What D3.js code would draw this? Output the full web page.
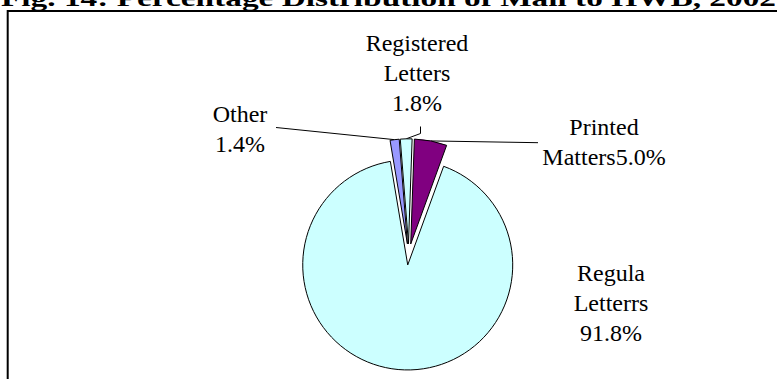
<!DOCTYPE html>
<html>
<head>
<meta charset="utf-8">
<script src="https://cdn.jsdelivr.net/npm/d3@7"></script>
<style>
  html, body { margin: 0; padding: 0; background: #fff; }
  svg { display: block; }
  text { font-family: "Liberation Serif", "Times New Roman", serif; fill: #000; }
</style>
</head>
<body>
<svg id="chart" width="777" height="379"></svg>
<script>
// Mail categories, clockwise from 12 o'clock
const categories = ["Printed Matters", "Regular Letters", "Other", "Registered Letters"];
const shares = [5.0, 91.8, 1.4, 1.8];
const sliceColors = ["#800080", "#CCFFFF", "#9999FF", "#CCFFFF"];
// Label wording as printed on the chart (value joined to the last name line or on its own line)
const labelNames = [["Printed", "Matters"], ["Regula", "Letterrs"], ["Other"], ["Registered", "Letters"]];
const valueOnOwnLine = [false, true, true, true];
const titleText = "Fig. 14: Percentage Distribution of Mail to HWB, 2002";

const svg = d3.select("#chart");
const W = 777, H = 379;

// Frame around the plot area (runs off the right and bottom edges)
svg.append("rect")
  .attr("x", 7.7).attr("y", 11)
  .attr("width", 820).attr("height", 420)
  .attr("fill", "none").attr("stroke", "#000").attr("stroke-width", 2);

// Title, mostly above the top edge
svg.append("text")
  .attr("x", 1).attr("y", 5.5)
  .attr("textLength", 775).attr("lengthAdjust", "spacingAndGlyphs")
  .style("font-size", "23px").style("font-weight", "bold")
  .text(titleText);

// Pie geometry
const cx = 408.7, cy = 254.4, R = 105, explode = 10.6;
const rot = 2 * Math.PI / 180;
const pie = d3.pie().sort(null).value(d => d)
  .startAngle(rot).endAngle(rot + 2 * Math.PI);
const arcs = pie(shares);
const arcGen = d3.arc().innerRadius(0).outerRadius(R);

const mid = a => (a.startAngle + a.endAngle) / 2;
const offset = a => [explode * Math.sin(mid(a)), -explode * Math.cos(mid(a))];
// point on the outer rim at the middle of a slice (in chart coordinates)
const rimPoint = a => {
  const [dx, dy] = offset(a);
  return [cx + dx + R * Math.sin(mid(a)), cy + dy - R * Math.cos(mid(a))];
};

// Leader lines from labels to slices
const leaderStarts = [
  [[538, 142.7]],
  null,
  [[276, 127.5]],
  [[420.5, 126.5], [420.5, 133.5]]
];
const lineGen = d3.line();
const leaders = svg.append("g");
arcs.forEach((a, i) => {
  if (!leaderStarts[i]) return;
  const pts = leaderStarts[i].concat([rimPoint(a)]);
  leaders.append("path")
    .attr("d", lineGen(pts))
    .attr("fill", "none").attr("stroke", "#000").attr("stroke-width", 1);
});

// Slices, each pulled out along its mid angle
const slices = svg.append("g").attr("transform", `translate(${cx},${cy})`);
slices.selectAll("path")
  .data(arcs)
  .join("path")
  .attr("transform", d => `translate(${offset(d)[0]},${offset(d)[1]})`)
  .attr("d", arcGen)
  .attr("fill", (d, i) => sliceColors[i])
  .attr("stroke", "#000")
  .attr("stroke-width", 1)
  .attr("stroke-linejoin", "miter");

// Data labels
const fmt = v => d3.format(".1f")(v) + "%";
const labelPos = [[604, 135], [611, 281], [240, 122], [417, 51]];
const lineGap = 30;
const labels = svg.append("g").style("font-size", "24px").attr("text-anchor", "middle");
arcs.forEach((a, i) => {
  const lines = labelNames[i].slice();
  if (valueOnOwnLine[i]) lines.push(fmt(shares[i]));
  else lines[lines.length - 1] += fmt(shares[i]);
  const t = labels.append("text")
    .attr("x", labelPos[i][0]).attr("y", labelPos[i][1]);
  lines.forEach((s, k) => {
    t.append("tspan")
      .attr("x", labelPos[i][0])
      .attr("dy", k === 0 ? 0 : lineGap)
      .text(s);
  });
});
</script>
</body>
</html>
